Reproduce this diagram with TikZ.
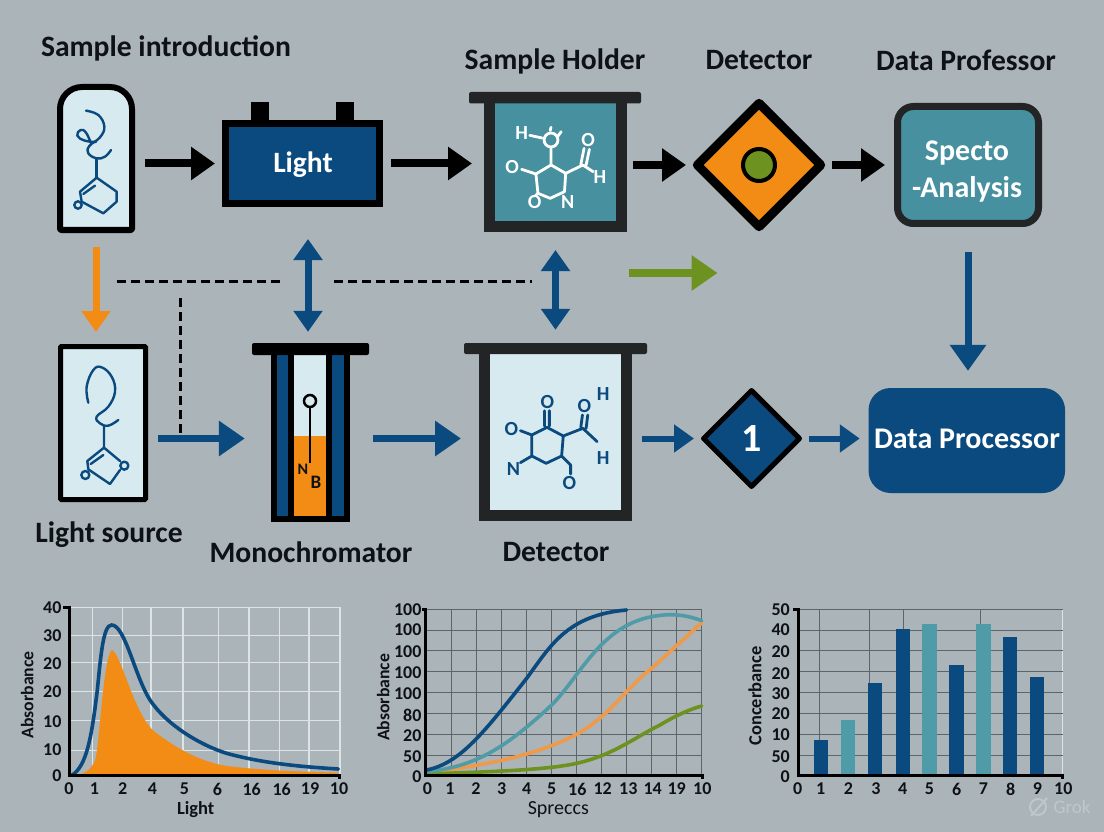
\documentclass[tikz,border=0pt]{standalone}
\usepackage{fontspec}
\setmainfont{Carlito}
\usetikzlibrary{arrows.meta,shapes.geometric}
\definecolor{bgc}{HTML}{ABB4B8}
\definecolor{ink}{HTML}{0E1216}
\definecolor{dark}{HTML}{222426}
\definecolor{navy}{HTML}{0B4A7E}
\definecolor{teal}{HTML}{46909F}
\definecolor{tealb}{HTML}{4F9CA8}
\definecolor{pale}{HTML}{D6EAF0}
\definecolor{orng}{HTML}{F28C14}
\definecolor{orngl}{HTML}{EF9A4A}
\definecolor{grn}{HTML}{6E9220}
\definecolor{gridd}{HTML}{5C656A}
\definecolor{gridw}{HTML}{DDE4E6}
\definecolor{wm}{HTML}{BEC8CB}
\tikzset{
  lab/.style={font=\bfseries\fontsize{29.6}{32}\selectfont,text=ink,inner sep=0pt},
  wlab/.style={font=\bfseries\fontsize{#1}{#1}\selectfont,text=white,inner sep=0pt},
  blk/.style={draw=black,line width=8pt,-{Triangle[length=24pt,width=32pt]}},
  blu/.style={draw=navy,line width=7pt,-{Triangle[length=26pt,width=34pt]}},
  blus/.style={draw=navy,line width=6pt,-{Triangle[length=20pt,width=27pt]}},
  dbl/.style={draw=navy,line width=7pt,{Triangle[length=21pt,width=28pt]}-{Triangle[length=21pt,width=28pt]}},
  dsh/.style={draw=black,line width=3pt,dash pattern=on 9pt off 5pt},
  boxn/.style={rectangle,inner sep=0pt},
  atom/.style={font=\bfseries\fontsize{20}{20}\selectfont,inner sep=0pt},
  tick/.style={font=\bfseries\fontsize{18}{18}\selectfont,text=ink,inner sep=0pt},
  axl/.style={font=\bfseries\fontsize{17.7}{18}\selectfont,text=ink,inner sep=0pt},
  mol/.style={draw=navy,line width=2.4pt,line cap=round,line join=round},
  axisl/.style={draw=black,line width=3pt},
  gd/.style={draw=gridd,line width=1pt},
  gw/.style={draw=gridw,line width=1.2pt},
  crv/.style={line width=3.6pt,line cap=round},
}
\begin{document}
\begin{tikzpicture}[x=1pt,y=-1pt]
\useasboundingbox (0,0) rectangle (1104,832);
\fill[bgc] (0,0) rectangle (1104,832);

% ---- labels
\node[lab] (lsi) at (166,48) {Sample introduction};
\node[lab] (lsh) at (555,61) {Sample Holder};
\node[lab] (ldt) at (759,60) {Detector};
\node[lab] (ldp) at (966,60) {Data Professor};
\node[lab] (lls) at (109,535) {Light source};
\node[lab] (lmo) at (311,552) {Monochromator};
\node[lab] (ldl) at (556,552) {Detector};

% ---- sample tube
\node[boxn,minimum width=78pt,minimum height=149pt] (tube) at (96,158.5) {};
\draw[black,line width=6pt,fill=pale,line join=round] (60,230) [rounded corners=22pt] -- (60,87) -- (132,87) [rounded corners=1pt] -- (132,230) -- cycle;
\begin{scope}[shift={(0,20)},scale=0.33333]
  \draw[mol] plot[smooth,tension=.7] coordinates {(258,272) (295,285) (313,320) (300,352) (268,378) (265,400) (290,415) (315,410) (333,390)};
  \draw[mol] plot[smooth,tension=.8] coordinates {(288,366) (255,362) (232,347) (242,330) (258,338) (272,368)};
  \draw[mol] (290,415) -- (290,473);
  \draw[mol] (290,473) -- (350,515) -- (350,545) -- (310,580) -- (245,545) -- (240,515) -- cycle;
  \draw[mol] (250,522) -- (285,497);
  \draw[mol,fill=pale] (234,555) circle[radius=11];
\end{scope}

% ---- battery
\node[boxn,draw=black,fill=navy,line width=7pt,minimum width=154pt,minimum height=80pt] (battery) at (302.5,163.5) {};
\node[boxn,fill=black,minimum width=18pt,minimum height=18pt] (term1) at (260,111) {};
\node[boxn,fill=black,minimum width=18pt,minimum height=18pt] (term2) at (345,111) {};
\node[wlab=29.5] (tlight) at (303,165) {Light};

% ---- sample holder
\node[boxn,draw=dark,fill=teal,line width=11pt,minimum width=132pt,minimum height=129pt] (holder) at (555.5,162) {};
\node[boxn,fill=dark,rounded corners=2pt,minimum width=172pt,minimum height=11.5pt] (holdcap) at (555,97.75) {};
\begin{scope}[shift={(440,30)},xscale=0.40816,yscale=0.33333]
  \draw[white,line width=2.8pt,line join=round,line cap=round]
    (272,405) -- (308,430) -- (305,485) -- (270,505) -- (240,490) -- (235,432) -- cycle
    (272,405) -- (272,355)
    (220,316) -- (250,324)
    (272,292) -- (270,302)
    (297,305) -- (288,320)
    (235,432) -- (200,418)
    (308,430) -- (350,405) -- (375,425)
    (345,403) -- (353,355) (358,405) -- (366,358)
    (240,490) -- (234,497);
  \draw[white,line width=2.8pt] (272,330) ellipse[x radius=17,y radius=21];
  \node[atom,text=white] (hh) at (200,310) {H};
  \node[atom,text=white] (ho1) at (177,412) {O};
  \node[atom,text=white] (ho2) at (363,331) {O};
  \node[atom,text=white] (hh2) at (392,442) {H};
  \node[atom,text=white] (ho3) at (232,516) {O};
  \node[atom,text=white] (hn) at (313,517) {N};
\end{scope}

% ---- detector diamond
\node[diamond,aspect=1,draw=black,fill=orng,line width=9pt,line join=round,minimum width=127pt,minimum height=127pt,inner sep=0pt] (diam) at (759,165) {};
\node[circle,draw=black,fill=grn,line width=4pt,minimum size=32pt,inner sep=0pt] (dot) at (759,165) {};

% ---- specto
\node[boxn,draw=dark,fill=teal,line width=7pt,rounded corners=16pt,minimum width=141pt,minimum height=117pt] (specto) at (968,165) {};
\node[wlab=30,align=center] (tsp1) at (967,153) {Specto};
\node[wlab=30,align=center] (tsp2) at (967,189) {-Analysis};

% ---- light source
\node[boxn,draw=black,fill=pale,line width=5pt,rounded corners=1pt,minimum width=85pt,minimum height=153pt] (src) at (103,423) {};
\begin{scope}[shift={(0,260)},scale=0.33333]
  \draw[mol] plot[smooth,tension=.7] coordinates {(265,428) (260,380) (280,330) (305,322) (335,350) (345,395) (325,440) (290,470) (300,490) (325,497) (355,480)};
  \draw[mol] (312,497) -- (312,563) -- (360,603);
  \draw[mol] (312,563) -- (262,603) -- (265,628) -- (330,672) -- (360,630);
  \draw[mol] (272,612) -- (310,585);
  \draw[mol,fill=pale] (373,617) circle[radius=12];
  \draw[mol,fill=pale] (256,645) circle[radius=12];
\end{scope}

% ---- monochromator
\node[boxn,fill=black,minimum width=79pt,minimum height=167pt] (monobody) at (310.5,438.5) {};
\node[boxn,fill=navy,minimum width=11pt,minimum height=161pt] (monol) at (282.5,435.5) {};
\node[boxn,fill=navy,minimum width=12pt,minimum height=161pt] (monor) at (338,435.5) {};
\node[boxn,fill=pale,minimum width=32pt,minimum height=81pt] (monou) at (310,395.5) {};
\node[boxn,fill=orng,minimum width=32pt,minimum height=80pt] (monod) at (310,476) {};
\node[boxn,fill=black,rounded corners=2pt,minimum width=117pt,minimum height=12pt] (monocap) at (310.5,349) {};
\node[circle,draw=black,fill=pale,line width=2.5pt,minimum size=12pt,inner sep=0pt] (probe) at (310,401) {};
\coordinate (probeend) at (310,463);
\draw[black,line width=2.6pt] (probe) -- (probeend);
\node[font=\bfseries\fontsize{16}{16}\selectfont,text=ink,inner sep=0pt] (tn) at (303,469) {N};
\node[font=\bfseries\fontsize{19}{19}\selectfont,text=ink,inner sep=0pt] (tb) at (316,482) {B};

% ---- lower detector
\node[boxn,draw=dark,fill=pale,line width=11pt,minimum width=142pt,minimum height=167pt] (detbody) at (555.5,432) {};
\node[boxn,fill=dark,rounded corners=2pt,minimum width=183pt,minimum height=11pt] (detcap) at (555.5,348.5) {};
\begin{scope}[shift={(440,320)},xscale=0.40816,yscale=0.33333]
  \draw[draw=navy,line width=2.8pt,line join=round,line cap=round]
    (262,322) -- (302,348) -- (298,408) -- (260,430) -- (225,408) -- (225,345) -- cycle
    (256,318) -- (256,272) (268,318) -- (268,272)
    (225,345) -- (197,332)
    (225,408) -- (197,428)
    (302,348) -- (350,325) -- (385,365)
    (345,322) -- (349,285) (358,325) -- (362,285)
    (298,408) -- (320,435) -- (320,462);
  \node[atom,text=navy] (do1) at (263,245) {O};
  \node[atom,text=navy] (do2) at (175,327) {O};
  \node[atom,text=navy] (dn) at (180,447) {N};
  \node[atom,text=navy] (do3) at (354,257) {O};
  \node[atom,text=navy] (dh1) at (400,222) {H};
  \node[atom,text=navy] (dh2) at (400,413) {H};
  \node[atom,text=navy] (do4) at (317,488) {O};
\end{scope}

% ---- lower diamond, processor
\node[diamond,aspect=1,draw=black,fill=navy,line width=5pt,line join=round,minimum width=98pt,minimum height=98pt,inner sep=0pt,font=\bfseries\fontsize{40}{40}\selectfont,text=white] (diam2) at (751.5,438.5) {1};
\node[boxn,fill=navy,rounded corners=22pt,minimum width=196.5pt,minimum height=105pt] (dp) at (966.8,440.5) {};
\node[wlab=30] (tdp) at (967,439) {Data Processor};

% ---- connectors
\draw[blk,shorten <=10pt,shorten >=7pt] (tube.east |- battery.west) -- (battery.west);
\draw[blk,shorten <=8pt,shorten >=12pt] (battery.east) -- (battery.east -| holder.west);
\draw[blk,shorten <=6pt,shorten >=5pt,yshift=2pt] (diam.west -| holder.east) -- (diam.west);
\draw[blk,shorten <=5pt,shorten >=9pt,yshift=2pt] (diam.east) -- (diam.east -| specto.west);
\draw[draw=orng,line width=7pt,-{Triangle[length=21pt,width=28pt]},shorten <=14pt,shorten >=12pt] (tube.south) -- (tube.south |- src.north);
\draw[dbl,shorten <=32pt,shorten >=11pt] ([xshift=5.5pt]battery.south) -- ([xshift=-2.5pt]monocap.north);
\draw[dbl,shorten <=18pt,shorten >=13pt] (holder.south) -- (holder.south |- detcap.north);
\coordinate (ga) at (629,273);
\coordinate (gb) at (717.5,273);
\draw[draw=grn,line width=8pt,-{Triangle[length=26pt,width=34pt]}] (ga) -- (gb);
\draw[draw=navy,line width=7pt,-{Triangle[length=26pt,width=35pt]},shorten <=25pt,shorten >=17pt] (specto.south) -- (specto.south |- dp.north);
\draw[blu,shorten <=10pt,shorten >=26pt,yshift=1.5pt] (src.east |- monobody.west) -- (monobody.west);
\draw[blu,shorten <=23pt,shorten >=18pt,yshift=1.5pt] (monobody.east) -- (monobody.east -| detbody.west);
\draw[blus,shorten <=10pt,shorten >=6pt,yshift=1.5pt] (diam2.west -| detbody.east) -- (diam2.west);
\draw[blus,shorten <=6pt,shorten >=8.6pt,yshift=1.5pt] (diam2.east) -- (diam2.east -| dp.west);
\coordinate (d1a) at (117,281); \coordinate (d1b) at (283,281);
\coordinate (d2a) at (334,281); \coordinate (d2b) at (532,281);
\coordinate (d3a) at (180,298); \coordinate (d3b) at (180,435);
\draw[dsh] (d1a) -- (d1b);
\draw[dsh] (d2a) -- (d2b);
\draw[dsh] (d3a) -- (d3b);

% ---- chart 1
\begin{scope}[shift={(0,590)},scale=0.33333]
  \foreach \x in {278,367,453,549,655,747,838,927,1020} \draw[gw] (\x,52) -- (\x,556);
  \foreach \y in {52,136,218,304,392,481} \draw[gw] (210,\y) -- (1020,\y);
  \fill[orng] (235,556) .. controls (265,545) and (280,530) .. (287,505) .. controls (300,440) and (310,210) .. (335,180) .. controls (350,180) and (375,260) .. (400,320) .. controls (420,365) and (440,410) .. (470,430) .. controls (530,475) and (600,515) .. (680,528) .. controls (800,542) and (900,545) .. (1015,548) -- (1015,556) -- cycle;
  \draw[navy,crv] (215,556) .. controls (260,530) and (275,440) .. (292,300) .. controls (303,190) and (310,105) .. (335,105) .. controls (375,105) and (405,260) .. (450,330) .. controls (500,405) and (600,465) .. (680,490) .. controls (790,520) and (900,530) .. (1015,537);
  \draw[axisl] (190,52) -- (210,52) -- (210,556) -- (1020,556) -- (1020,566);
  \foreach \l/\p [count=\i] in {40/52,30/138,20/220,20/305,10/395,10/480,0/558}
    \node[tick,anchor=east] (ay\i) at (185,\p) {\l};
  \foreach \l/\p [count=\i] in {0/207,1/283,2/368,4/457,5/553,6/652,16/755,16/845,19/930,10/1017}
    \node[tick] (ax\i) at (\p,597) {\l};
  \node[axl,rotate=90] (at1) at (82,315) {Absorbance};
  \node[font=\bfseries\fontsize{18.5}{19}\selectfont,text=ink,inner sep=0pt] (at2) at (587,658) {Light};
\end{scope}

% ---- chart 2
\begin{scope}[shift={(360,590)},scale=0.33333]
  \foreach \x in {275,350,425,500,575,650,725,800,875,950,1025} \draw[gd] (\x,57) -- (\x,555);
  \foreach \y in {57,120,182,245,308,371,434,497} \draw[gd] (195,\y) -- (1025,\y);
  \draw[orngl,crv] (200,550) .. controls (350,525) and (500,510) .. (650,433) .. controls (760,370) and (800,290) .. (875,235) .. controls (930,185) and (980,140) .. (1025,98);
  \draw[grn,crv] (200,552) .. controls (400,545) and (560,540) .. (650,520) .. controls (760,495) and (820,445) .. (900,405) .. controls (950,375) and (990,358) .. (1025,348);
  \draw[tealb,crv] (200,545) .. controls (350,530) and (440,470) .. (575,345) .. controls (660,260) and (720,110) .. (875,80) .. controls (930,70) and (970,72) .. (1025,92);
  \draw[navy,crv] (200,540) .. controls (300,520) and (370,430) .. (500,265) .. controls (570,170) and (620,75) .. (800,60);
  \draw[axisl] (185,57) -- (195,57) -- (195,555) -- (1027,555) -- (1027,566);
  \foreach \l/\p [count=\i] in {100/60,100/120,100/185,100/248,100/312,80/375,20/438,50/500,0/560}
    \node[tick,anchor=east] (by\i) at (185,\p) {\l};
  \foreach \l/\p [count=\i] in {0/202,1/270,2/348,3/425,4/500,5/575,16/652,12/728,13/805,14/878,19/950,10/1027}
    \node[tick] (bx\i) at (\p,597) {\l};
  \node[axl,rotate=90] (bt1) at (70,322) {Absorbance};
  \node[font=\fontsize{20}{20}\selectfont,text=ink,inner sep=0pt] (bt2) at (595,660) {Spreccs};
\end{scope}

% ---- chart 3
\begin{scope}[shift={(730,590)},scale=0.33333]
  \draw[gw] (998,57) -- (998,555);
  \foreach \x in {268,418,519,750} \draw[gd] (\x,57) -- (\x,555);
  \foreach \y in {57,120,182,245,308,371,434,497} \draw[gd] (205,\y) -- (998,\y);
  \foreach \a/\t/\c in {252/451/navy,333/389/tealb,414/280/navy,497/116/navy,577/102/tealb,658/226/navy,739/101/tealb,819/142/navy,900/260/navy}
    \fill[\c] (\a,\t) rectangle (\a+43,555);
  \draw[axisl] (190,57) -- (205,57) -- (205,555) -- (998,555) -- (998,566);
  \foreach \l/\p [count=\i] in {50/60,40/120,20/185,20/250,30/310,20/372,10/435,50/500,0/560}
    \node[tick,anchor=east] (cy\i) at (180,\p) {\l};
  \foreach \l/\p [count=\i] in {0/203,1/272,2/355,3/438,4/518,5/598,6/680,7/760,8/842,9/922,10/1000}
    \node[tick] (cx\i) at (\p,597) {\l};
  \node[font=\bfseries\fontsize{18.4}{19}\selectfont,text=ink,inner sep=0pt,rotate=90] (ct1) at (75,318) {Concerbance};
\end{scope}

% ---- watermark
\coordinate (wmc) at (1038,807);
\draw[wm,line width=2pt] (wmc) circle[radius=8];
\coordinate (wma) at (1031,816);
\coordinate (wmb) at (1047,798);
\draw[wm,line width=2pt] (wma) -- (wmb);
\node[text=wm,font=\fontsize{19}{19}\selectfont,inner sep=0pt] (wmt) at (1072,807) {Grok};
\end{tikzpicture}
\end{document}
